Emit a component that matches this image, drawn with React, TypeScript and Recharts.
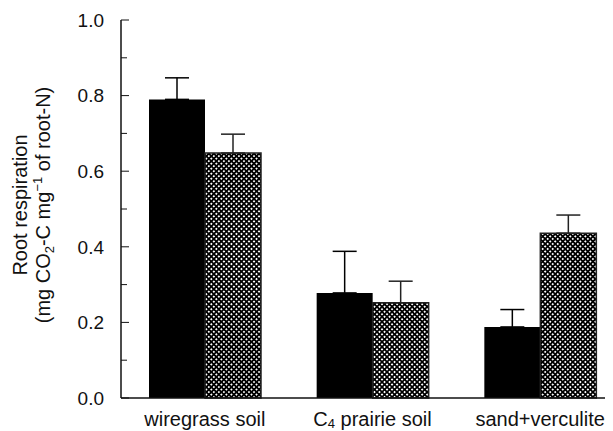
import React from "react";
import { BarChart, Bar, XAxis, YAxis, ErrorBar } from "recharts";

const categories = ["wiregrass soil", "C4 prairie soil", "sand+verculite"];
const solidValues = [0.79, 0.278, 0.188];
const solidErr = [0.057, 0.11, 0.046];
const hatchValues = [0.648, 0.252, 0.436];
const hatchErr = [0.05, 0.057, 0.048];
const yTicks = [0, 0.1, 0.2, 0.3, 0.4, 0.5, 0.6, 0.7, 0.8, 0.9, 1.0];

const INK = "#111";
const FONT = "'Liberation Sans', Arial, Helvetica, sans-serif";

const data = categories.map((c, i) => ({
  name: c,
  solid: solidValues[i],
  solidErr: [0, solidErr[i]],
  hatch: hatchValues[i],
  hatchErr: [0, hatchErr[i]],
}));

function YTick(props: any) {
  const { x, y, payload, index } = props;
  const major = index % 2 === 0;
  const axisX = x + 17;
  return (
    <g>
      <line x1={axisX} x2={axisX + (major ? 8 : 6)} y1={y} y2={y} stroke={INK} strokeWidth={1} />
      {major && (
        <text x={x} y={y} dy="0.36em" textAnchor="end" fontSize={19} fontFamily={FONT} fill={INK}>
          {Number(payload.value).toFixed(1)}
        </text>
      )}
    </g>
  );
}

function XTick(props: any) {
  const { x, y, payload } = props;
  const v: string = payload.value;
  const m = v.match(/^C4 (.*)$/);
  return (
    <text x={x} y={y + 6} dy="0.72em" textAnchor="middle" fontSize={20} fontFamily={FONT} fill={INK}>
      {m ? (
        <>
          C<tspan fontSize={13} dy={2}>4</tspan>
          <tspan dy={-2}> {m[1]}</tspan>
        </>
      ) : (
        v
      )}
    </text>
  );
}

function YLabel(props: any) {
  const { viewBox } = props;
  const cy = viewBox.y + viewBox.height / 2 - 4;
  const x1 = 19;
  const x2 = 42;
  return (
    <g>
      <text
        x={x1}
        y={cy}
        textAnchor="middle"
        fontSize={20}
        fontFamily={FONT}
        fill={INK}
        transform={`rotate(-90, ${x1}, ${cy})`}
      >
        Root respiration
      </text>
      <text
        x={x2}
        y={cy}
        textAnchor="middle"
        fontSize={20}
        fontFamily={FONT}
        fill={INK}
        transform={`rotate(-90, ${x2}, ${cy})`}
      >
        (mg CO<tspan fontSize={13} dy={4}>2</tspan>
        <tspan dy={-4}>-C mg</tspan>
        <tspan fontSize={13} dy={-8}>−1</tspan>
        <tspan dy={8}> of root-N)</tspan>
      </text>
    </g>
  );
}

export default function App() {
  return (
    <div style={{ width: 605, height: 423, overflow: "hidden", background: "#fff" }}>
      <BarChart
        width={630}
        height={423}
        data={data}
        margin={{ top: 12, right: 14, bottom: 3, left: 0 }}
        barCategoryGap="16.7%"
        barGap={0}
      >
        <defs>
          {/* diamond cross-hatch: black lattice with white diamonds */}
          <pattern
            id="xhatch"
            patternUnits="userSpaceOnUse"
            width={3.55}
            height={3.55}
            patternTransform="rotate(45)"
          >
            <rect width={3.55} height={3.55} fill="#000" shapeRendering="crispEdges" />
            <rect x={0.7} y={0.7} width={2.15} height={2.15} fill="#fff" shapeRendering="crispEdges" />
          </pattern>
        </defs>
        <XAxis
          dataKey="name"
          height={30}
          axisLine={{ stroke: INK, strokeWidth: 1.5 }}
          tickLine={false}
          tick={<XTick />}
          interval={0}
        />
        <XAxis
          xAxisId="top"
          dataKey="name"
          orientation="top"
          height={0}
          tick={false}
          tickLine={false}
          axisLine={{ stroke: INK, strokeWidth: 1.5 }}
        />
        <YAxis
          width={113}
          domain={[0, 1]}
          ticks={yTicks}
          interval={0}
          tickSize={0}
          tickMargin={17}
          tickLine={false}
          axisLine={{ stroke: INK, strokeWidth: 1.5 }}
          tick={<YTick />}
          label={<YLabel />}
        />
        <Bar dataKey="solid" fill="#000" isAnimationActive={false}>
          <ErrorBar dataKey="solidErr" width={12} stroke="#000" strokeWidth={1.5} isAnimationActive={false} />
        </Bar>
        <Bar dataKey="hatch" fill="url(#xhatch)" stroke="#222" strokeWidth={1.5} isAnimationActive={false}>
          <ErrorBar dataKey="hatchErr" width={12} stroke="#222" strokeWidth={1.5} isAnimationActive={false} />
        </Bar>
      </BarChart>
    </div>
  );
}
